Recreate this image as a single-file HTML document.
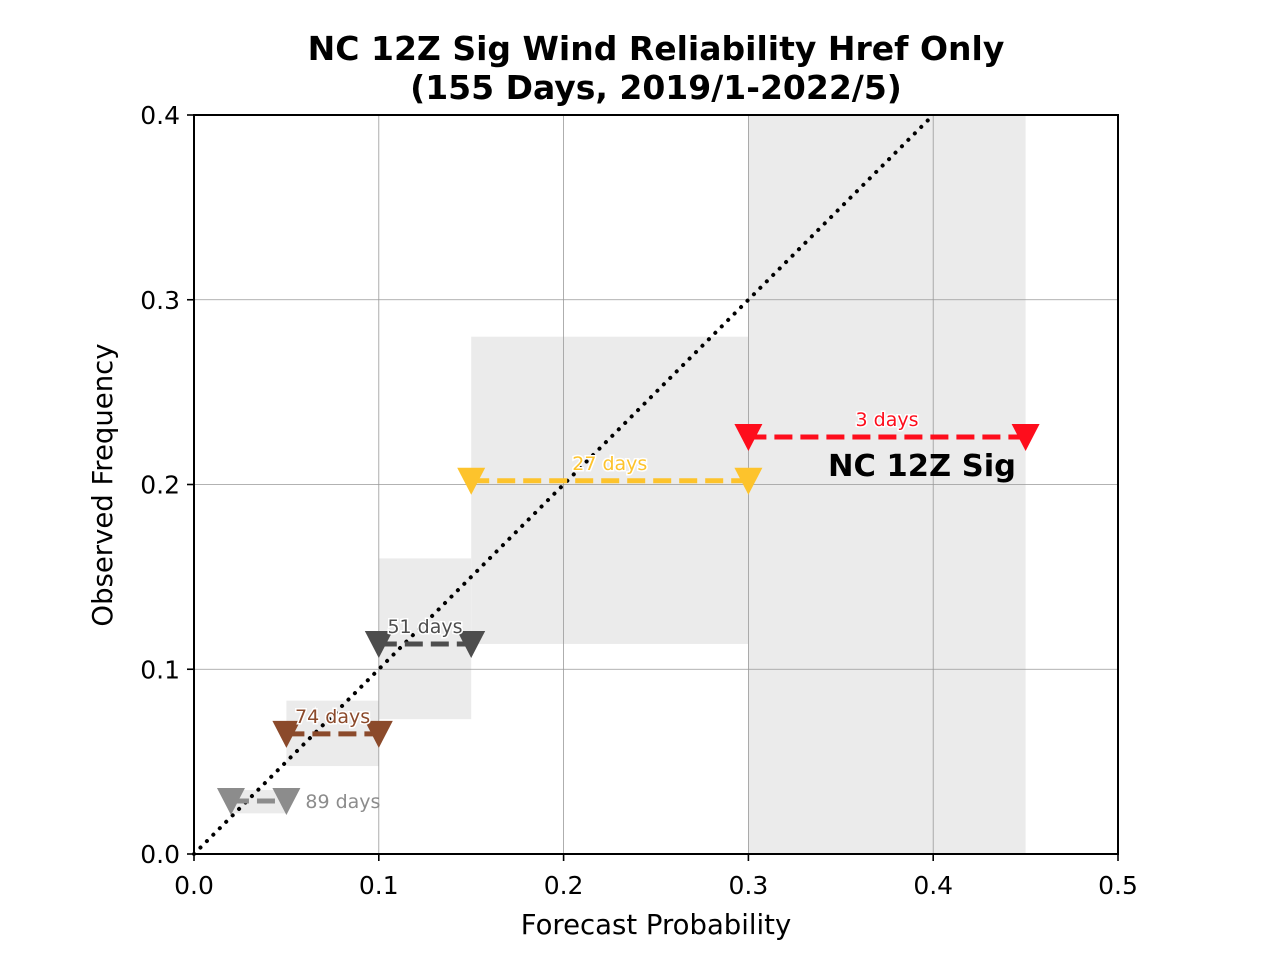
<!DOCTYPE html>
<html><head><meta charset="utf-8"><style>body{margin:0;background:#fff}svg{display:block}text{font-family:"DejaVu Sans","Liberation Sans",sans-serif}</style></head>
<body>
<svg id="chart" width="1280" height="960" xmlns="http://www.w3.org/2000/svg">
<text x="656" y="60" text-anchor="middle" font-size="33" font-weight="bold">NC 12Z Sig Wind Reliability Href Only</text>
<text x="656" y="99" text-anchor="middle" font-size="33" font-weight="bold">(155 Days, 2019/1-2022/5)</text>
<g id="boxes"></g><g id="grid"></g><g id="diag"></g><g id="series"></g>
<rect x="194" y="115" width="924" height="739" fill="none" stroke="#000" stroke-width="2"/>
<g id="ticks"></g>
<text x="656" y="934" text-anchor="middle" font-size="27.5">Forecast Probability</text>
<text transform="translate(112,485) rotate(-90)" text-anchor="middle" font-size="27.5">Observed Frequency</text>
<text x="922" y="476" text-anchor="middle" font-size="30.5" font-weight="bold">NC 12Z Sig</text>
</svg>
<script>
const binLo=[0.02,0.05,0.10,0.15,0.30];
const binHi=[0.05,0.10,0.15,0.30,0.45];
const obs=[0.0287,0.065,0.1137,0.202,0.2257];
const boxLo=[0.022,0.0476,0.073,0.1137,0];
const boxHi=[0.0346,0.083,0.16,0.28,0.4];
const days=[89,74,51,27,3];
const colors=['#8c8c8c','#8b4a2b','#4d4d4d','#fdc32c','#fe0d1c'];
const xTicks=[0,0.1,0.2,0.3,0.4,0.5];
const yTicks=[0,0.1,0.2,0.3,0.4];
const X=v=>194+v*1848, Y=v=>854-v*1847.5;
const NS='http://www.w3.org/2000/svg';
function mk(p,t,a){const e=document.createElementNS(NS,t);for(const k in a)e.setAttribute(k,a[k]);document.getElementById(p).appendChild(e);return e;}
for(let i=0;i<binLo.length;i++){
 const r=mk('boxes','rect',{x:X(binLo[i]),y:Y(boxHi[i]),width:X(binHi[i])-X(binLo[i]),height:Y(boxLo[i])-Y(boxHi[i]),fill:'#ebebeb'});
 
 
}
xTicks.forEach(v=>{
 const l=mk('grid','line',{x1:X(v),x2:X(v),y1:115,y2:854,stroke:'#999','stroke-width':0.8});
 
 
 const t=mk('ticks','line',{x1:X(v),x2:X(v),y1:854,y2:861,stroke:'#000','stroke-width':1.6});
 
 
 const s=mk('ticks','text',{x:X(v),y:894,'text-anchor':'middle','font-size':25});s.textContent=v.toFixed(1);
 
 
});
yTicks.forEach(v=>{
 const l=mk('grid','line',{x1:194,x2:1118,y1:Y(v),y2:Y(v),stroke:'#999','stroke-width':0.8});
 
 
 const t=mk('ticks','line',{x1:187,x2:194,y1:Y(v),y2:Y(v),stroke:'#000','stroke-width':1.6});
 
 
 const s=mk('ticks','text',{x:180,y:Y(v)+9,'text-anchor':'end','font-size':25});s.textContent=v.toFixed(1);
 
 
});
const d=mk('diag','line',{x1:X(0),y1:Y(0),x2:X(0.4),y2:Y(0.4),stroke:'#000','stroke-width':4,'stroke-dasharray':'0.1 9','stroke-linecap':'round'});


for(let i=0;i<binLo.length;i++){
 const y=Y(obs[i]),x1=X(binLo[i]),x2=X(binHi[i]);
 const l=mk('series','line',{x1:x1,x2:x2,y1:y,y2:y,stroke:colors[i],'stroke-width':5,'stroke-dasharray':'18 8'});
 
 
 [x1,x2].forEach(x=>{
  const m=mk('series','polygon',{points:`${x-14},${y-13} ${x+14},${y-13} ${x},${y+14}`,fill:colors[i]});
  
  
 });
 const last=i===0;
 const t=mk('series','text',{x:last?x2+19:(x1+x2)/2,y:last?y+7:y-11,'text-anchor':last?'start':'middle','font-size':19,fill:colors[i],stroke:last?'none':'#fff','stroke-width':3,'paint-order':'stroke'});
 t.textContent=days[i]+' days';
 
 
}
</script>
</body></html>
